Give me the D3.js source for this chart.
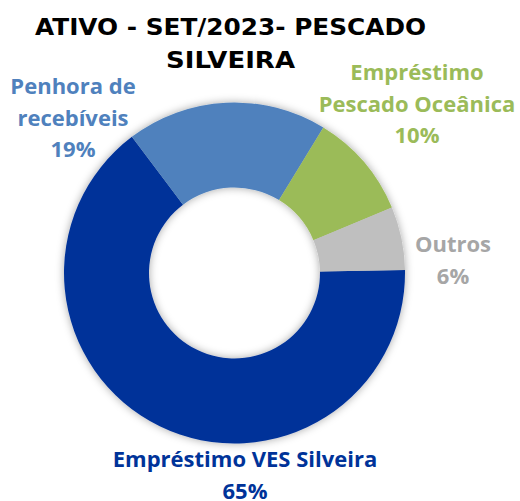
<!DOCTYPE html>
<html>
<head>
<meta charset="utf-8">
<script src="https://cdn.jsdelivr.net/npm/d3@7"></script>
<style>
  html, body { margin: 0; padding: 0; background: #fff; }
  svg { display: block; }
</style>
</head>
<body>
<svg id="chart" width="520" height="501"></svg>
<script>
const titleLines = ["ATIVO - SET/2023- PESCADO", "SILVEIRA"];
const categories = ["Empréstimo VES Silveira", "Penhora de recebíveis", "Empréstimo Pescado Oceânica", "Outros"];
const values = [65, 19, 10, 6];
const colors = ["#003399", "#4F81BD", "#9BBB59", "#BFBFBF"];
const labelColors = ["#003399", "#4F81BD", "#9BBB59", "#A6A6A6"];
const labelLines = [
  ["Empréstimo VES Silveira", "65%"],
  ["Penhora de", "recebíveis", "19%"],
  ["Empréstimo", "Pescado Oceânica", "10%"],
  ["Outros", "6%"]
];
const labelPos = [[245, 467], [73, 94], [417, 80], [453, 252]];

const svg = d3.select("#chart");
const cx = 234.5, cy = 273, R = 170.5, r = 85.5;
const startDeg = 89;

const defs = svg.append("defs");
const f = defs.append("filter").attr("id", "sh").attr("x", "-20%").attr("y", "-20%").attr("width", "140%").attr("height", "140%");
f.append("feDropShadow").attr("dx", 0).attr("dy", 0).attr("stdDeviation", 4).attr("flood-color", "#000").attr("flood-opacity", 0.35);

const pie = d3.pie().sort(null).value(d => d)
  .startAngle(startDeg * Math.PI / 180)
  .endAngle((startDeg + 360) * Math.PI / 180);
const arc = d3.arc().innerRadius(r).outerRadius(R);

const g = svg.append("g").attr("transform", `translate(${cx},${cy})`).attr("filter", "url(#sh)");
g.selectAll("path").data(pie(values)).join("path")
  .attr("d", arc)
  .attr("fill", (d, i) => colors[i]);

const titleWidths = [391, 129];
svg.append("g").selectAll("text").data(titleLines).join("text")
  .attr("x", 230.5)
  .attr("y", (d, i) => 35 + i * 33)
  .attr("text-anchor", "middle")
  .attr("font-family", "DejaVu Sans")
  .attr("font-weight", "bold")
  .attr("font-size", 23.5)
  .attr("textLength", (d, i) => titleWidths[i])
  .attr("lengthAdjust", "spacingAndGlyphs")
  .attr("fill", "#000")
  .text(d => d);

const lg = svg.append("g");
labelLines.forEach((lines, i) => {
  const t = lg.append("text")
    .attr("text-anchor", "middle")
    .attr("font-family", "Open Sans")
    .attr("font-weight", "bold")
    .attr("font-size", 22)
    .attr("fill", labelColors[i]);
  lines.forEach((ln, j) => {
    t.append("tspan").attr("x", labelPos[i][0]).attr("y", labelPos[i][1] + j * 31.5).text(ln);
  });
});
</script>
</body>
</html>
